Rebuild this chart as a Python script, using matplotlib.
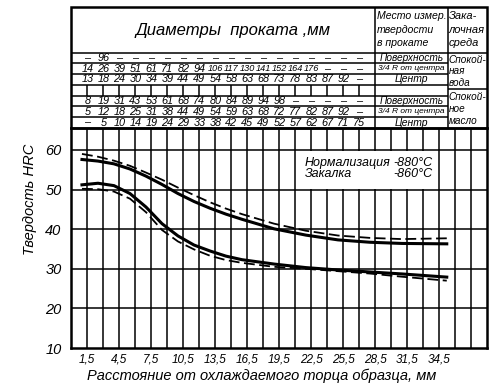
import numpy as np
import matplotlib.pyplot as plt
from matplotlib.patches import Rectangle

# distance from the quenched end, mm
dist_mm = [1.0, 2.5, 4.0, 5.5, 7.0, 8.5, 10.0, 11.5, 13.0, 14.5, 16.0, 19.0, 22.0, 25.0, 28.0, 31.0, 35.2]

# hardness HRC, upper band (solid / dashed) and lower band (solid / dashed)
hrc_upper_solid = [57.6, 57.2, 56.5, 55.2, 53.4, 51.3, 49.0, 47.0, 45.3, 43.8, 42.5, 40.1, 38.5, 37.3, 36.7, 36.4, 36.3]
hrc_upper_dash = [59.0, 58.3, 57.3, 56.0, 54.3, 52.5, 50.5, 48.6, 46.8, 45.2, 43.8, 41.4, 39.6, 38.4, 37.8, 37.5, 37.7]
hrc_lower_solid = [51.2, 51.6, 51.0, 49.0, 45.6, 41.4, 38.3, 36.0, 34.5, 33.2, 32.3, 31.2, 30.3, 29.7, 29.2, 28.7, 27.9]
hrc_lower_dash = [50.2, 50.1, 49.5, 47.7, 44.3, 39.8, 36.9, 34.9, 33.3, 32.2, 31.5, 30.5, 30.0, 29.4, 28.8, 28.0, 27.0]

x_ticks = [1.5, 4.5, 7.5, 10.5, 13.5, 16.5, 19.5, 22.5, 25.5, 28.5, 31.5, 34.5]
x_tick_labels = ["1,5", "4,5", "7,5", "10,5", "13,5", "16,5", "19,5", "22,5", "25,5", "28,5", "31,5", "34,5"]
y_ticks = [10, 20, 30, 40, 50, 60]

# bar diameters for each distance column (1.5 ... 27 mm)
d = "–"
rows_diam = [
    [d, "96", d, d, d, d, d, d, d, d, d, d, d, d, d, d, d, d],
    ["14", "26", "39", "51", "61", "71", "82", "94", "106", "117", "130", "141", "152", "164", "176", d, d, d],
    ["13", "18", "24", "30", "34", "39", "44", "49", "54", "58", "63", "68", "73", "78", "83", "87", "92", d],
    [],
    ["8", "19", "31", "43", "53", "61", "68", "74", "80", "84", "89", "94", "98", d, d, d, d, d],
    ["5", "12", "18", "25", "31", "38", "44", "49", "54", "59", "63", "68", "72", "77", "82", "87", "92", d],
    [d, "5", "10", "14", "19", "24", "29", "33", "38", "42", "45", "49", "52", "57", "62", "67", "71", "75"],
]
rows_place = ["Поверхность", "3/4 R от центра", "Центр", "",
              "Поверхность", "3/4 R от центра", "Центр"]

FONT = ["Liberation Sans", "DejaVu Sans"]
plt.rcParams["font.family"] = FONT
plt.rcParams["font.style"] = "italic"

W, H = 503, 387
fig = plt.figure(figsize=(W / 100, H / 100), dpi=100)


def box(x0, y0, x1, y1):
    return [x0 / W, 1 - y1 / H, (x1 - x0) / W, (y1 - y0) / H]


X0, X1 = 71.3, 487.3
ax = fig.add_axes(box(X0, 128, X1, 348))
ax.set_xlim(0, 39)
ax.set_ylim(10, 65.55)

grid_x = np.arange(1.5, 39, 1.5)
ax.vlines(grid_x, 10, 65.55, color="black", lw=1.1, zorder=1)
ax.hlines(y_ticks[1:], 0, 39, color="black", lw=1.1, zorder=1)
for s in ax.spines.values():
    s.set_linewidth(1.8)

ax.add_patch(Rectangle((21.15, 50.2), 13.2, 9.6, facecolor="white", edgecolor="none", zorder=2))
ax.text(21.9, 56.8, "Нормализация", fontsize=9, va="center", zorder=3)
ax.text(33.9, 56.8, "-880°C", fontsize=9, va="center", ha="right", zorder=3)
ax.text(21.9, 53.9, "Закалка", fontsize=9, va="center", zorder=3)
ax.text(33.9, 53.9, "-860°C", fontsize=9, va="center", ha="right", zorder=3)

ax.plot(dist_mm, hrc_upper_solid, color="black", lw=2.2, zorder=4)
ax.plot(dist_mm, hrc_lower_solid, color="black", lw=2.2, zorder=4)
ax.plot(dist_mm, hrc_upper_dash, color="black", lw=1.3, dashes=(6, 2.5), zorder=4)
ax.plot(dist_mm, hrc_lower_dash, color="black", lw=1.3, dashes=(6, 2.5), zorder=4)

ax.set_xticks(x_ticks, x_tick_labels, fontsize=8.5)
ax.set_yticks(y_ticks, [str(v) for v in y_ticks], fontsize=10.5)
ax.tick_params(length=0)
ax.tick_params(axis="x", pad=4)
ax.tick_params(axis="y", pad=7)

fig.text(262 / W, 1 - 376 / H, "Расстояние от охлаждаемого торца образца, мм",
         fontsize=10.5, ha="center", va="center")
fig.text(30 / W, 1 - 199 / H, "Твердость HRC", fontsize=10.5, rotation=90,
         ha="center", va="center")

# table above the plot, x shared with the plot (mm), y in pixel rows
tab = fig.add_axes(box(X0, 7, X1, 128))
tab.set_xlim(0, 39)
tab.set_ylim(128, 7)
tab.axis("off")

x_place, x_medium = 28.5, 35.3
head_bot = 52.5
edges = np.linspace(head_bot, 128, 8)
lw = 1.1
tab.add_patch(Rectangle((0, 7), 39, 121, fill=False, lw=1.8, edgecolor="black", clip_on=False))
tab.hlines(head_bot, 0, 39, color="black", lw=lw)
tab.hlines(edges[1:-1], 0, x_medium, color="black", lw=lw)
tab.hlines(89.3, x_medium, 39, color="black", lw=lw)
tab.vlines([x_place, x_medium], 7, 128, color="black", lw=lw)
tab.vlines(grid_x[grid_x < x_place], edges[3], edges[4], color="black", lw=lw)

tab.text(15.2, 30, "Диаметры  проката ,мм", fontsize=12, ha="center", va="center")
for i, line in enumerate(["Место измер.", "твердости", "в прокате"]):
    tab.text(28.65, 16 + i * 13.5, line, fontsize=7.6, va="center")
for i, line in enumerate(["Зака-", "лочная", "среда"]):
    tab.text(35.4, 16 + i * 13.5, line, fontsize=8, va="center")
for i, line in enumerate(["Спокой-", "ная", "вода"]):
    tab.text(35.4, 60 + i * 11.5, line, fontsize=7.2, va="center")
for i, line in enumerate(["Спокой-", "ное", "масло"]):
    tab.text(35.4, 97 + i * 12, line, fontsize=7.2, va="center")

place_size = {"Поверхность": 7.3, "3/4 R от центра": 6.0, "Центр": 7.5}
for r, vals in enumerate(rows_diam):
    yc = (edges[r] + edges[r + 1]) / 2
    for k, v in enumerate(vals):
        size = 6.6 if len(v) > 2 else 7.8
        tab.text(1.5 * (k + 1), yc, v, fontsize=size, ha="center", va="center")
    if rows_place[r]:
        tab.text((x_place + x_medium) / 2, yc, rows_place[r], fontsize=place_size[rows_place[r]],
                 ha="center", va="center")

fig.savefig("out.png", dpi=100)
